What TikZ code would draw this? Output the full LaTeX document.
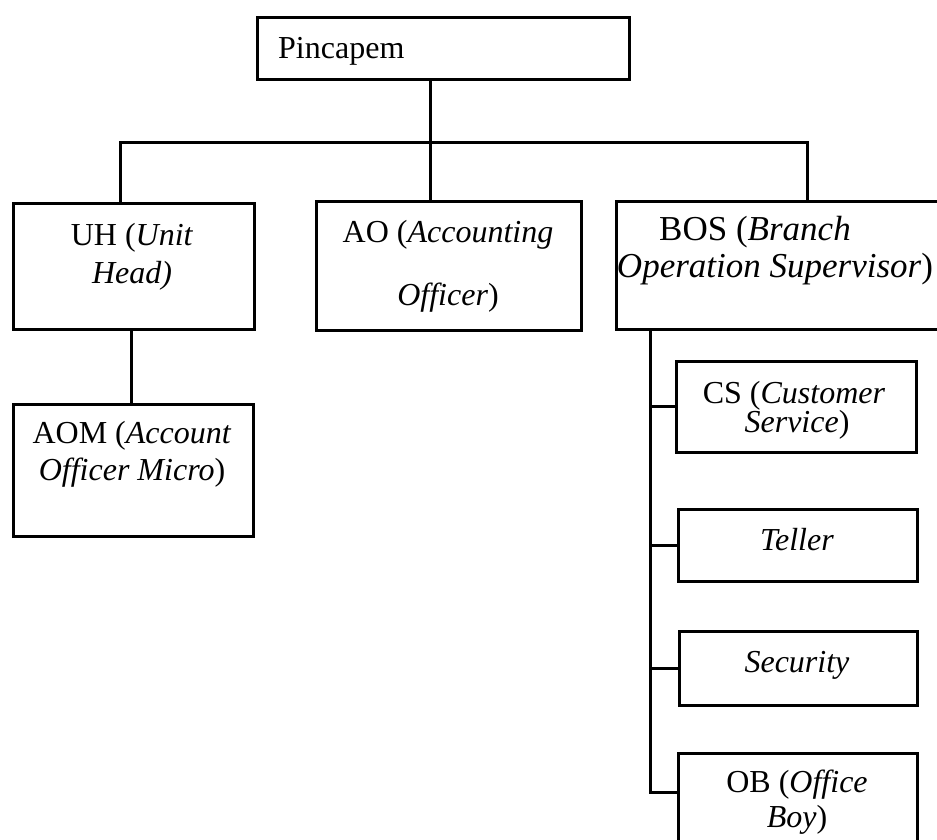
\documentclass[tikz,border=0pt]{standalone}
\usepackage{fontspec}
\setmainfont{Liberation Serif}
\begin{document}
\begin{tikzpicture}[x=1pt,y=-1pt,
  box/.style={draw, line width=3pt, inner sep=0pt, rectangle},
  conn/.style={line width=3pt},
  txt/.style={inner sep=0pt, anchor=base, font=\fontsize{32}{38}\selectfont},
  bigtxt/.style={txt, font=\fontsize{35}{40}\selectfont}]
\useasboundingbox (0,0) rectangle (937,839);
\clip (0,0) rectangle (937,839);
% boxes
\node[box, minimum width=372pt, minimum height=62pt] (pin) at (443,48) {};
\node[box, minimum width=241pt, minimum height=126pt] (uh) at (133.5,266) {};
\node[box, minimum width=240pt, minimum height=132pt] (aom) at (133,470) {};
\node[box, minimum width=265pt, minimum height=129pt] (ao) at (448.5,265.5) {};
\node[box, minimum width=328pt, minimum height=128pt] (bos) at (780,265) {};
\node[box, minimum width=240pt, minimum height=91pt] (cs) at (796,406.5) {};
\node[box, minimum width=239pt, minimum height=72pt] (teller) at (797.5,545) {};
\node[box, minimum width=238pt, minimum height=74pt] (security) at (798,668) {};
\node[box, minimum width=239pt, minimum height=114pt] (ob) at (797.5,810) {};
% texts
\node[txt, anchor=base west] (pinT) at (278,58) {Pincapem};
\node[txt] (uhT1) at (132,245) {UH (\textit{Unit}};
\node[txt] (uhT2) at (132,283) {\textit{Head)}};
\node[txt] (aomT1) at (132,443) {AOM (\textit{Account}};
\node[txt] (aomT2) at (132,480) {\textit{Officer Micro})};
\node[txt] (aoT1) at (448,242) {AO (\textit{Accounting}};
\node[txt] (aoT2) at (448,305) {\textit{Officer})};
\node[bigtxt] (bosT1) at (755,240) {BOS (\textit{Branch}};
\node[bigtxt] (bosT2) at (775,277) {\textit{Operation Supervisor})};
\node[txt] (csT1) at (794,403) {CS (\textit{Customer}};
\node[txt] (csT2) at (797,432) {\textit{Service})};
\node[txt] (telT) at (797,550) {\textit{Teller}};
\node[txt] (secT) at (797,672) {\textit{Security}};
\node[txt] (obT1) at (797,792) {OB (\textit{Office}};
\node[txt] (obT2) at (797,827) {\textit{Boy})};
% connectors
\coordinate (jL) at (120,142);
\coordinate (jM) at (430,142);
\coordinate (jR) at (807,142);
\draw[conn] (pin.south -| jM) -- (jM);
\draw[conn] (uh.north -| jL) -- (jL) -- (jR) -- (bos.north -| jR);
\draw[conn] (jM) -- (ao.north -| jM);
\coordinate (uhx) at (131,330);
\draw[conn] (uh.south -| uhx) -- (aom.north -| uhx);
\coordinate (trk) at (650,330);
\coordinate (obj) at (650,792);
\draw[conn] (bos.south -| trk) -- (obj) -- (obj -| ob.west);
\draw[conn] (trk |- cs.west) -- (cs.west);
\draw[conn] (trk |- teller.west) -- (teller.west);
\draw[conn] (trk |- security.west) -- (security.west);
\end{tikzpicture}
\end{document}
